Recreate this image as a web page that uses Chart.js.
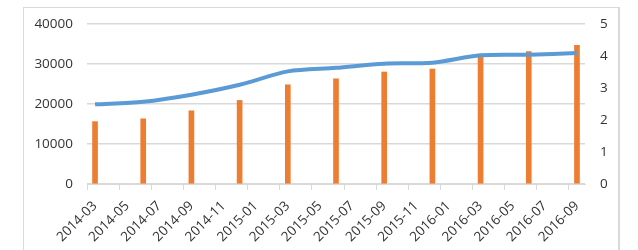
<!DOCTYPE html>
<html>
<head>
<meta charset="utf-8">
<script src="https://cdn.jsdelivr.net/npm/chart.js@4.4.1/dist/chart.umd.min.js"></script>
<style>
  html, body { margin: 0; padding: 0; background: #fff; overflow: hidden; }
  #wrap { position: relative; width: 638px; height: 250px; }
  #frame {
    position: absolute; left: 23px; top: 7px; width: 594px; height: 260px;
    border-left: 1px solid #d9d9d9; border-top: 1px solid #d9d9d9; border-right: 2px solid #d9d9d9;
  }
  #chart { position: absolute; left: 0; top: 0; }
</style>
</head>
<body>
<div id="wrap">
  <div id="frame"></div>
  <canvas id="chart" width="638" height="250"></canvas>
</div>
<script>
// all months on the date axis
const months = [
  '2014-03', '2014-04', '2014-05', '2014-06', '2014-07', '2014-08', '2014-09', '2014-10',
  '2014-11', '2014-12', '2015-01', '2015-02', '2015-03', '2015-04', '2015-05', '2015-06',
  '2015-07', '2015-08', '2015-09', '2015-10', '2015-11', '2015-12', '2016-01', '2016-02',
  '2016-03', '2016-04', '2016-05', '2016-06', '2016-07', '2016-08', '2016-09'
];

// quarterly observations
const quarters = [
  '2014-03', '2014-06', '2014-09', '2014-12', '2015-03', '2015-06',
  '2015-09', '2015-12', '2016-03', '2016-06', '2016-09'
];
const barValues = [15600, 16300, 18300, 20900, 24800, 26300, 28000, 28750, 31750, 33100, 34650];
const lineValues = [2.49, 2.57, 2.79, 3.10, 3.52, 3.63, 3.76, 3.79, 4.02, 4.04, 4.09];

const leftTicks = [0, 10000, 20000, 30000, 40000];
const rightTicks = [0, 1, 2, 3, 4, 5];

const font = { family: 'Open Sans', size: 13.5 };
const textColor = '#333';
const gridColor = '#d9d9d9';

const barData = quarters.map((q, i) => ({ x: q, y: barValues[i] }));
const lineData = quarters.map((q, i) => ({ x: q, y: lineValues[i] }));

new Chart(document.getElementById('chart'), {
  type: 'bar',
  data: {
    labels: months,
    datasets: [
      {
        type: 'line',
        data: lineData,
        yAxisID: 'y1',
        borderColor: '#5B9BD5',
        borderWidth: 4,
        pointRadius: 0,
        tension: 0.3,
        spanGaps: true,
        order: 0
      },
      {
        type: 'bar',
        data: barData,
        yAxisID: 'y',
        backgroundColor: '#ED7D31',
        barThickness: 5,
        order: 1
      }
    ]
  },
  options: {
    responsive: false,
    animation: false,
    layout: { padding: { top: 24, left: 0, right: 0, bottom: 0 } },
    plugins: { legend: { display: false }, tooltip: { enabled: false } },
    scales: {
      x: {
        offset: true,
        afterFit: s => { s.height = 66; },
        border: { display: true, color: gridColor, width: 1 },
        grid: {
          offset: true,
          drawOnChartArea: false,
          drawTicks: true,
          tickLength: 6,
          color: ctx => (ctx.index % 2 === 0 || ctx.index === months.length) ? gridColor : 'rgba(0,0,0,0)'
        },
        ticks: {
          autoSkip: false,
          minRotation: 45,
          maxRotation: 45,
          padding: 8,
          color: textColor,
          font: font,
          callback: (v, i) => i % 2 === 0 ? months[i] : ''
        }
      },
      y: {
        position: 'left',
        min: 0,
        max: 40000,
        afterFit: s => { s.width = 87; },
        afterBuildTicks: s => { s.ticks = leftTicks.map(v => ({ value: v })); },
        border: { display: false },
        grid: { color: gridColor, lineWidth: 1.5, drawTicks: false },
        ticks: { padding: 14, color: textColor, font: font, callback: v => String(v) }
      },
      y1: {
        position: 'right',
        min: 0,
        max: 5,
        afterFit: s => { s.width = 53; },
        afterBuildTicks: s => { s.ticks = rightTicks.map(v => ({ value: v })); },
        border: { display: false },
        grid: { display: false, drawTicks: false },
        ticks: { padding: 15, color: textColor, font: font, callback: v => String(v) }
      }
    }
  }
});
</script>
</body>
</html>
